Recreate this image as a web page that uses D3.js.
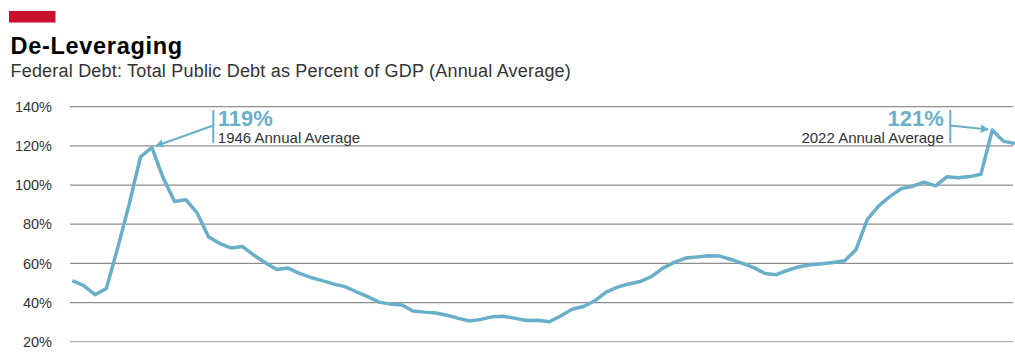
<!DOCTYPE html>
<html>
<head>
<meta charset="utf-8">
<script src="https://cdn.jsdelivr.net/npm/d3@7"></script>
<style>
  html, body { margin: 0; padding: 0; background: #fff; }
  svg { display: block; font-family: "Liberation Sans", Arial, Helvetica, sans-serif; }
</style>
</head>
<body>
<svg id="chart" width="1015" height="361"></svg>
<script>
const years = d3.range(1939, 2023);
const debtPct = [
  51.2, 48.6, 44.0, 47.2, 68.0, 90.0, 114.3, 119.2, 103.7, 91.6,
  92.5, 85.6, 73.5, 70.1, 67.8, 68.6, 64.1, 60.3, 56.9, 57.6,
  54.9, 52.8, 51.2, 49.5, 48.1, 45.5, 43.0, 40.2, 39.2, 38.8,
  35.7, 35.1, 34.7, 33.5, 31.9, 30.6, 31.4, 32.8, 33.0, 31.9,
  30.8, 30.9, 30.2, 33.1, 36.6, 38.0, 40.9, 45.3, 47.9, 49.5,
  50.7, 53.3, 57.6, 60.5, 62.7, 63.2, 63.9, 63.7, 62.0, 60.0,
  57.8, 54.8, 54.2, 56.5, 58.3, 59.3, 59.8, 60.5, 61.3, 67.0,
  82.5, 89.4, 94.2, 98.2, 99.4, 101.5, 99.6, 104.2, 103.7, 104.3,
  105.5, 128.1, 122.3, 121.2
];
const yTicks = [20, 40, 60, 80, 100, 120, 140];
const titleText = "De-Leveraging";
const subtitleText = "Federal Debt: Total Public Debt as Percent of GDP (Annual Average)";
const annotations = [
  { value: "119%", label: "1946 Annual Average", target: 1946, side: "right" },
  { value: "121%", label: "2022 Annual Average", target: 2020, side: "left" }
];

const svg = d3.select("#chart");
const lineColor = "#6aafc9";

// header
svg.append("rect").attr("x", 9).attr("y", 11).attr("width", 46.5).attr("height", 11.5).attr("fill", "#c8102e");
svg.append("text").attr("x", 10.5).attr("y", 53.5).attr("font-size", 23.5).attr("font-weight", "bold")
  .attr("letter-spacing", 0.7).attr("fill", "#000").text(titleText);
svg.append("text").attr("x", 10.5).attr("y", 76.5).attr("font-size", 18)
  .attr("letter-spacing", 0.2).attr("fill", "#333").text(subtitleText);

const x = d3.scaleLinear().domain([1939, 2022]).range([72.3, 1015]);
const y = d3.scaleLinear().domain([20, 140]).range([341.7, 106.7]);

// grid
const grid = svg.append("g");
grid.selectAll("line").data(yTicks).join("line")
  .attr("x1", 70).attr("x2", 1013)
  .attr("y1", d => y(d)).attr("y2", d => y(d))
  .attr("stroke", d => d === 20 ? "#b0b0b0" : "#8e8e8e")
  .attr("stroke-width", 1.3);

// y axis labels
const yAxis = d3.axisLeft(y).tickValues(yTicks).tickFormat(d => d + "%").tickSize(0).tickPadding(0);
const ag = svg.append("g").attr("transform", "translate(52,0)").call(yAxis);
ag.select(".domain").remove();
ag.selectAll("text").attr("font-size", 14.5).attr("fill", "#333")
  .attr("font-family", "'Liberation Sans', Arial, sans-serif");

// line
const line = d3.line().x((d, i) => x(years[i])).y(d => y(d));
svg.append("path").datum(debtPct).attr("d", line)
  .attr("fill", "none").attr("stroke", lineColor).attr("stroke-width", 3.5)
  .attr("stroke-linejoin", "round");

// arrow marker
svg.append("defs").append("marker").attr("id", "arr")
  .attr("viewBox", "0 0 10 10").attr("refX", 9).attr("refY", 5)
  .attr("markerWidth", 4.2).attr("markerHeight", 4.2).attr("orient", "auto-start-reverse")
  .append("path").attr("d", "M0,0 L10,5 L0,10 z").attr("fill", lineColor);

// annotations
annotations.forEach(a => {
  const i = years.indexOf(a.target);
  const px = x(a.target), py = y(debtPct[i]);
  const g = svg.append("g");
  let barX, tx, anchor, tipX, tipY;
  if (a.side === "right") {
    barX = px + 61.5; tx = barX + 4.5; anchor = "start"; tipX = px + 4; tipY = py - 1.5;
  } else {
    barX = px - 42; tx = barX - 6.5; anchor = "end"; tipX = px - 4; tipY = py - 0.5;
  }
  g.append("line").attr("x1", barX).attr("x2", barX).attr("y1", 110).attr("y2", 143)
    .attr("stroke", lineColor).attr("stroke-width", 2);
  g.append("line").attr("x1", barX).attr("y1", 125.5).attr("x2", tipX).attr("y2", tipY)
    .attr("stroke", lineColor).attr("stroke-width", 2).attr("marker-end", "url(#arr)");
  g.append("text").attr("x", tx).attr("y", 125.5).attr("text-anchor", anchor)
    .attr("font-size", 22).attr("font-weight", "bold").attr("fill", lineColor).text(a.value);
  g.append("text").attr("x", tx).attr("y", 143).attr("text-anchor", anchor)
    .attr("font-size", 15).attr("fill", "#333").text(a.label);
});
</script>
</body>
</html>
